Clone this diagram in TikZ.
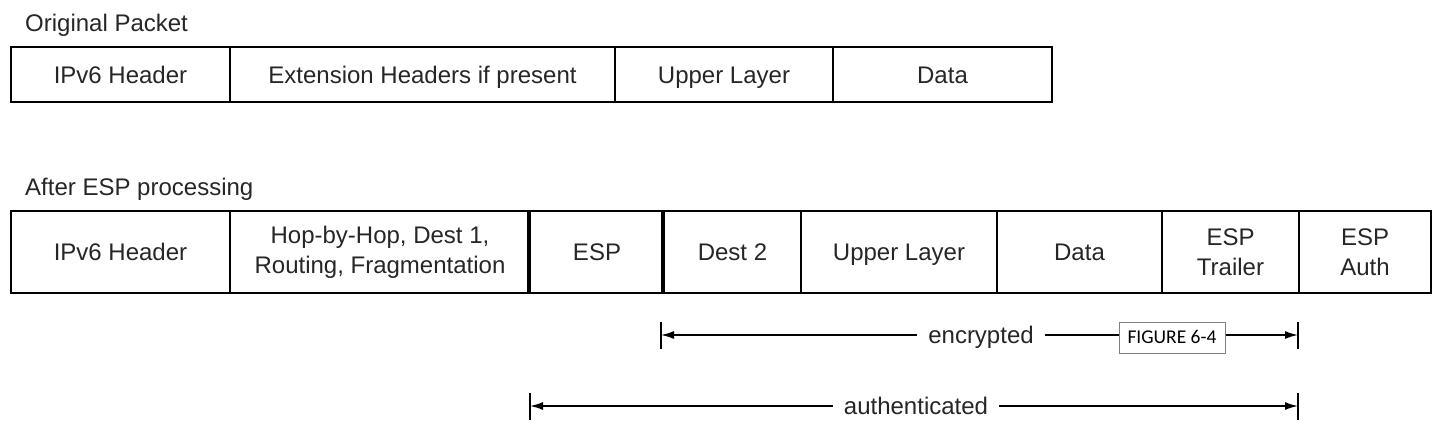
\documentclass[tikz,border=0pt]{standalone}
\usepackage{fontspec}
\setmainfont{Liberation Sans}
\newfontfamily\figfont{Carlito}
\usetikzlibrary{arrows.meta,calc}
\begin{document}
\begin{tikzpicture}[x=1pt,y=-1pt,
  txt/.style={text=black!85,font=\fontsize{24}{30}\selectfont,inner sep=0pt},
  cell/.style={txt,draw=black,line width=2pt,align=center,anchor=north west,minimum height=#1},
  one/.style={text height=17.3pt,text depth=0pt},
  rowlabel/.style={txt,anchor=west,text height=17.3pt,text depth=0pt},
  bar/.style={draw=black,line width=2.2pt},
  span/.style={draw=black,line width=1.6pt,-{Latex[length=13pt,width=8pt]}},
  spanlabel/.style={txt,fill=white,inner xsep=11pt,inner ysep=0pt,text height=17.3pt,text depth=0pt},
  figbox/.style={draw=black!50,line width=0.8pt,fill=white,font=\figfont\fontsize{19.5}{22}\selectfont,text=black,minimum width=106pt,minimum height=31pt,inner sep=0pt,text height=12.5pt,text depth=0pt}
]
\useasboundingbox (0,0) rectangle (1451,437);
% Original packet
\node[rowlabel] (lab1) at (25,23) {Original Packet};
\node[cell=55pt,one,minimum width=219pt] (o1) at (10,46) {IPv6 Header};
\node[cell=55pt,one,minimum width=385pt] (o2) at (229,46) {Extension Headers if present};
\node[cell=55pt,one,minimum width=218pt] (o3) at (614,46) {Upper Layer};
\node[cell=55pt,one,minimum width=219pt] (o4) at (832,46) {Data};
% After ESP
\node[rowlabel] (lab2) at (25,187) {After ESP processing};
\node[cell=82pt,one,minimum width=219pt] (a1) at (10,210) {IPv6 Header};
\node[cell=82pt,minimum width=300pt] (a2) at (229,210) {Hop-by-Hop, Dest 1,\\Routing, Fragmentation};
\node[cell=82pt,one,minimum width=134pt] (a3) at (529,210) {ESP};
\node[cell=82pt,one,minimum width=137pt] (a4) at (663,210) {Dest 2};
\node[cell=82pt,one,minimum width=196pt] (a5) at (800,210) {Upper Layer};
\node[cell=82pt,one,minimum width=165pt] (a6) at (996,210) {Data};
\node[cell=82pt,minimum width=137pt] (a7) at (1161,210) {ESP\\Trailer};
\node[cell=82pt,minimum width=132pt] (a8) at (1298,210) {ESP\\Auth};
\draw[line width=3.6pt] (a3.north west) -- (a3.south west);
\draw[line width=3.6pt] (a4.north west) -- (a4.south west);
% encrypted span
\coordinate (e1) at (661,335);
\coordinate (e2) at (1298,335);
\node[spanlabel] (enc) at (981,335) {encrypted};
\draw[bar] ($(e1)+(0,-13)$) -- ($(e1)+(0,14)$);
\draw[bar] ($(e2)+(0,-13)$) -- ($(e2)+(0,14)$);
\draw[span] (enc.west) -- (e1);
\draw[span] (enc.east) -- (e2);
\node[figbox] (fig) at (1172,337.5) {FIGURE 6-4};
% authenticated span
\coordinate (u1) at (530,406);
\coordinate (u2) at (1298,406);
\node[spanlabel] (auth) at (916,406) {authenticated};
\draw[bar] ($(u1)+(0,-13)$) -- ($(u1)+(0,14)$);
\draw[bar] ($(u2)+(0,-13)$) -- ($(u2)+(0,14)$);
\draw[span] (auth.west) -- (u1);
\draw[span] (auth.east) -- (u2);
\end{tikzpicture}
\end{document}
